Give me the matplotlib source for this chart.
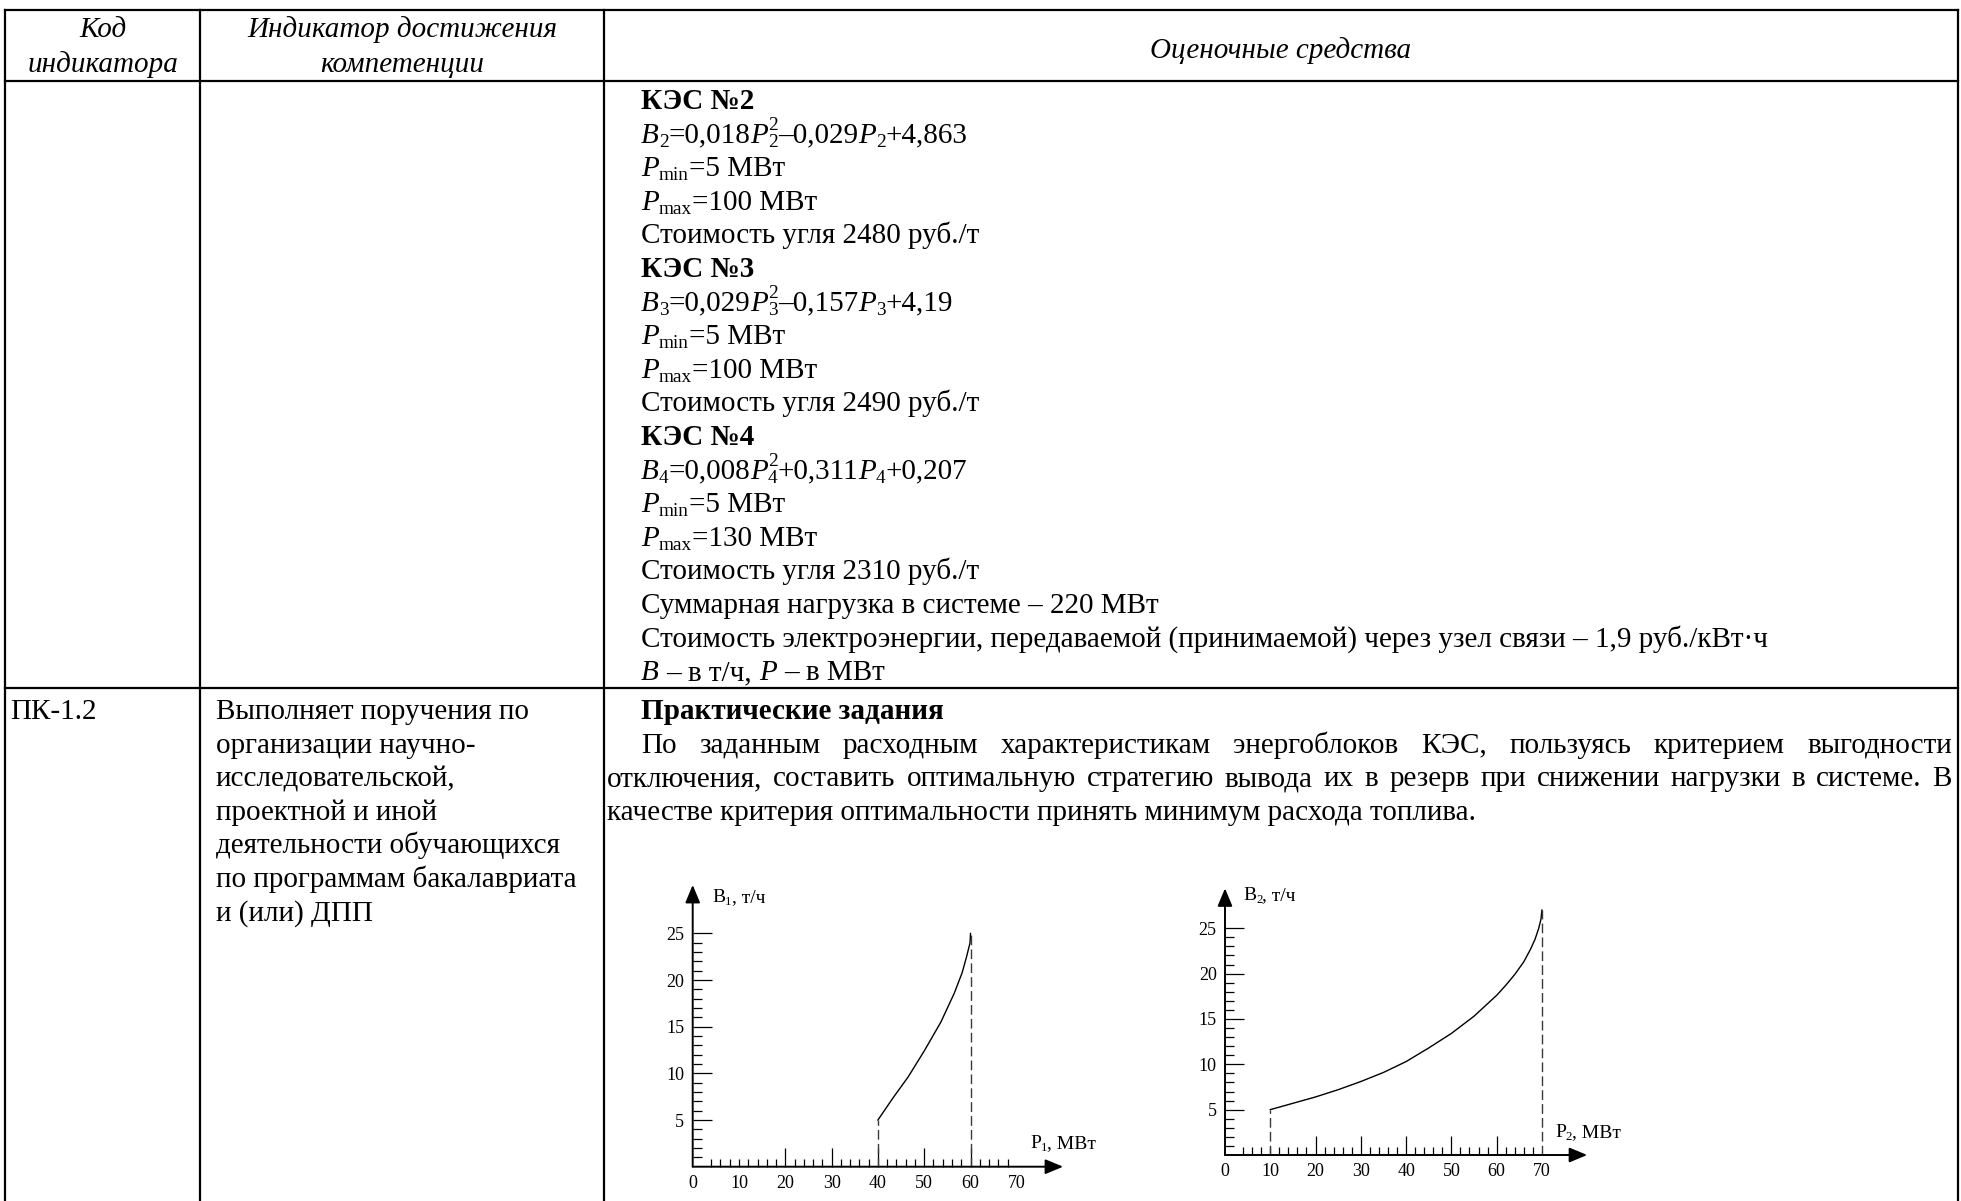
import matplotlib
matplotlib.use("Agg")
import matplotlib.pyplot as plt

# ---------------- data ----------------
header_col1 = ["Код", "индикатора"]
header_col2 = ["Индикатор достижения", "компетенции"]
header_col3 = "Оценочные средства"

row1_lines = [
    [("КЭС №2", "b")],
    [("B", "i"), ("2", "sub"), ("=0,018", "r"), ("P", "i"), ("2", "sub0"), ("2", "sup"),
     ("–0,029", "r"), ("P", "i"), ("2", "sub"), ("+4,863", "r")],
    [("P", "i"), ("min", "sub"), ("=5 МВт", "r")],
    [("P", "i"), ("max", "sub"), ("=100 МВт", "r")],
    [("Стоимость угля 2480 руб./т", "r")],
    [("КЭС №3", "b")],
    [("B", "i"), ("3", "sub"), ("=0,029", "r"), ("P", "i"), ("3", "sub0"), ("2", "sup"),
     ("–0,157", "r"), ("P", "i"), ("3", "sub"), ("+4,19", "r")],
    [("P", "i"), ("min", "sub"), ("=5 МВт", "r")],
    [("P", "i"), ("max", "sub"), ("=100 МВт", "r")],
    [("Стоимость угля 2490 руб./т", "r")],
    [("КЭС №4", "b")],
    [("B", "i"), ("4", "sub"), ("=0,008", "r"), ("P", "i"), ("4", "sub0"), ("2", "sup"),
     ("+0,311", "r"), ("P", "i"), ("4", "sub"), ("+0,207", "r")],
    [("P", "i"), ("min", "sub"), ("=5 МВт", "r")],
    [("P", "i"), ("max", "sub"), ("=130 МВт", "r")],
    [("Стоимость угля 2310 руб./т", "r")],
    [("Суммарная нагрузка в системе – 220 МВт", "r")],
    [("Стоимость электроэнергии, передаваемой (принимаемой) через узел связи – 1,9 руб./кВт·ч", "r")],
    [("B", "i"), (" – в т/ч, ", "r"), ("P", "i"), (" – в МВт", "r")],
]

row2_code = "ПК-1.2"
row2_indicator = ["Выполняет поручения по", "организации научно-", "исследовательской,",
                  "проектной и иной", "деятельности обучающихся",
                  "по программам бакалавриата", "и (или) ДПП"]
row2_title = "Практические задания"
row2_par = [
    "По заданным расходным характеристикам энергоблоков КЭС, пользуясь критерием выгодности",
    "отключения, составить оптимальную стратегию вывода их в резерв при снижении нагрузки в системе. В",
    "качестве критерия оптимальности принять минимум расхода топлива.",
]

x_tick_pos = [0, 10, 20, 30, 40, 50, 60, 70]
x_tick_lab = ["0", "10", "20", "30", "40", "50", "60", "70"]
x_major_marks = [20, 30, 40, 50, 60]
x_minor_marks = [4, 6, 8, 10, 12, 14, 16, 18, 22, 24, 26, 28, 32, 34, 36, 38, 42, 44, 46, 48,
                 52, 54, 56, 58, 62, 64, 66, 68]
y_tick_pos = [5, 10, 15, 20, 25]
y_tick_lab = ["5", "10", "15", "20", "25"]
y_minor_marks = [1, 2, 3, 4, 6, 7, 8, 9, 11, 12, 13, 14, 16, 17, 18, 19, 21, 22, 23, 24]

b1_P = [40, 43.3, 46.5, 50, 53.6, 56.5, 58.2, 59.2, 59.9, 60]
b1_B = [5, 7.4, 9.6, 12.4, 15.5, 18.6, 20.8, 22.6, 24.0, 25.0]
b2_P = [10, 15, 20, 25, 30, 35, 40, 45, 50, 55, 60, 62, 64, 66, 67.5, 68.5, 69.3, 69.8, 70]
b2_B = [5, 5.7, 6.4, 7.2, 8.1, 9.1, 10.3, 11.8, 13.4, 15.3, 17.6, 18.7, 19.9, 21.3, 22.7,
        23.8, 25.0, 26.0, 27.0]

# ---------------- figure ----------------
W, H = 1961, 1201
SERIF = ["Liberation Serif", "DejaVu Serif"]
FS = 21
CFS = 13
LFS = 14

fig = plt.figure(figsize=(W / 100, H / 100), dpi=100)
ax0 = fig.add_axes([0, 0, 1, 1])
ax0.set_xlim(0, W)
ax0.set_ylim(H, 0)
ax0.axis("off")
renderer = fig.canvas.get_renderer()


def width_of(t):
    return t.get_window_extent(renderer).width


def txt(x, y, s, size=FS, style="normal", weight="normal", ha="left"):
    return ax0.text(x, y, s, fontsize=size, fontstyle=style, fontweight=weight,
                    family=SERIF, va="baseline", ha=ha, color="black")


def space_w(size, style="normal", weight="normal"):
    a = txt(0, -100, "нн", size, style, weight)
    b = txt(0, -100, "н н", size, style, weight)
    w = width_of(b) - width_of(a)
    a.remove()
    b.remove()
    return w


SP = {}


def rich(x, y, parts, size=FS):
    em = size / 72 * 100
    cur = x
    for s, k in parts:
        style = "italic" if k == "i" else "normal"
        weight = "bold" if k == "b" else "normal"
        fs = size
        dy = 0
        advance = True
        if k in ("sub", "sub0"):
            fs = size * 0.66
            dy = 0.14 * em
            advance = k == "sub"
        elif k == "sup":
            fs = size * 0.66
            dy = -0.42 * em
        key = (fs, style, weight)
        if key not in SP:
            SP[key] = space_w(fs, style, weight)
        lead = len(s) - len(s.lstrip(" "))
        trail = len(s) - len(s.rstrip(" "))
        core = s.strip(" ")
        cur += lead * SP[key]
        t = txt(cur, y + dy, core, fs, style, weight)
        if advance:
            cur += width_of(t)
        cur += trail * SP[key]
    return cur


def justify(x0, x1, y, line, size=FS):
    words = line.split(" ")
    ts = [txt(0, y, w_, size) for w_ in words]
    ws = [width_of(t) for t in ts]
    gap = (x1 - x0 - sum(ws)) / (len(words) - 1)
    cur = x0
    for t, w_ in zip(ts, ws):
        t.set_x(cur)
        cur += w_ + gap


# ---------------- table ----------------
col_x = [5, 200, 604, 1958]
top_y, head_y, row_y = 10, 81, 688
LW = 1.6
for yy in (top_y, head_y, row_y):
    ax0.plot([col_x[0], col_x[-1]], [yy, yy], color="black", lw=LW, solid_capstyle="projecting")
for xx in col_x:
    ax0.plot([xx, xx], [top_y, H], color="black", lw=LW, solid_capstyle="projecting")

OFF = 10
txt((col_x[0] + col_x[1]) / 2, 27 + OFF, header_col1[0], style="italic", ha="center")
txt((col_x[0] + col_x[1]) / 2, 62 + OFF, header_col1[1], style="italic", ha="center")
txt((col_x[1] + col_x[2]) / 2, 27 + OFF, header_col2[0], style="italic", ha="center")
txt((col_x[1] + col_x[2]) / 2, 62 + OFF, header_col2[1], style="italic", ha="center")
txt((col_x[2] + col_x[3]) / 2, 48 + OFF, header_col3, style="italic", ha="center")

LS = 33.6
X3 = 641
for i, parts in enumerate(row1_lines):
    rich(X3, 100 + 9 + i * LS, parts)

y2 = 709 + 10
txt(10, y2, row2_code)
for i, s in enumerate(row2_indicator):
    txt(216, y2 + i * LS, s)
txt(X3, y2, row2_title, weight="bold")
justify(X3, 1952, y2 + LS, row2_par[0])
justify(607, 1952, y2 + 2 * LS, row2_par[1])
txt(607, y2 + 3 * LS, row2_par[2])


# ---------------- charts ----------------
def chart(ox, oy, sx, sy, xmax, ymax, px, py):
    ax = fig.add_axes([ox / W, (H - oy) / H, xmax * sx / W, ymax * sy / H])
    ax.set_xlim(0, xmax)
    ax.set_ylim(0, ymax)
    ax.patch.set_visible(False)
    for s in ax.spines.values():
        s.set_visible(False)
    ax.plot(px, py, color="black", lw=1.0, solid_joinstyle="round")
    ax.vlines([px[0], px[-1]], 0, [py[0], py[-1]], colors="#3a3a3a",
              linestyles=(0, (7, 3)), lw=1.0)
    arr = dict(arrowstyle="-|>,head_length=0.6,head_width=0.25", lw=1.4, color="black",
               mutation_scale=18, shrinkA=0, shrinkB=0)
    ax.annotate("", xy=(xmax, 0), xytext=(0, 0), arrowprops=arr, annotation_clip=False)
    ax.annotate("", xy=(0, ymax), xytext=(0, 0), arrowprops=arr, annotation_clip=False)
    ax.set_xticks(x_tick_pos)
    ax.set_xticklabels(x_tick_lab, family=SERIF, fontsize=CFS)
    ax.set_xticks(x_minor_marks, minor=True)
    ax.set_yticks(y_tick_pos)
    ax.set_yticklabels(y_tick_lab, family=SERIF, fontsize=CFS)
    ax.set_yticks(y_minor_marks, minor=True)
    ax.tick_params(which="both", direction="in", width=0.9, color="black",
                   top=False, right=False)
    ax.tick_params(axis="x", which="major", length=13.7, pad=6)
    ax.tick_params(axis="y", which="major", length=13.7, pad=6)
    ax.tick_params(axis="x", which="minor", length=6)
    ax.tick_params(axis="y", which="minor", length=6.5)
    for pos, tk in zip(x_tick_pos, ax.xaxis.get_major_ticks()):
        if pos not in x_major_marks:
            tk.tick1line.set_markersize(6 if pos in x_minor_marks else 0)
    return ax


chart(692.7, 1166.7, 4.63, 9.33, 80, 30.2, b1_P, b1_B)
chart(1225, 1155, 4.527, 9.07, 80, 29.4, b2_P, b2_B)

rich(712, 902, [("B", "r"), ("1", "sub"), (", т/ч", "r")], size=LFS)
rich(1030, 1148, [("P", "r"), ("1", "sub"), (", МВт", "r")], size=LFS)
rich(1243, 900, [("B", "r"), ("2", "sub"), (", т/ч", "r")], size=LFS)
rich(1555, 1137, [("P", "r"), ("2", "sub"), (", МВт", "r")], size=LFS)

fig.savefig("out.png", dpi=100)
